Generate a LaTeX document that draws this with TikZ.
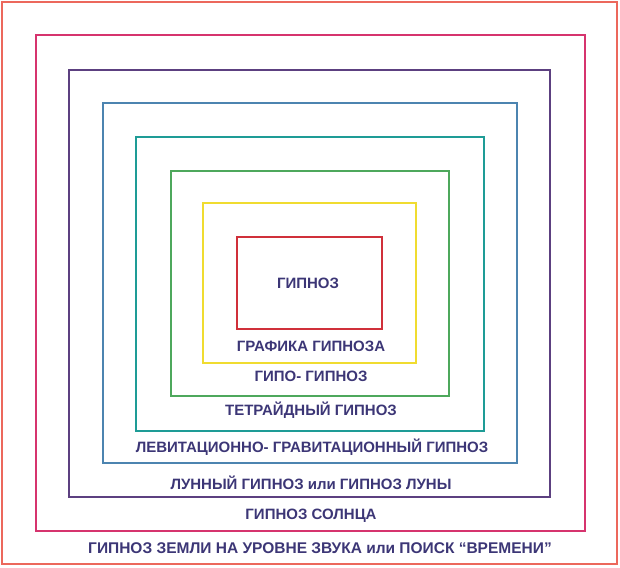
\documentclass[tikz,border=0pt]{standalone}
\usepackage{fontspec}
\setmainfont{Liberation Sans}
\usepackage{tikz}

\definecolor{labelblue}{RGB}{60,54,118}
\definecolor{boxsalmon}{RGB}{236,104,92}
\definecolor{boxpink}{RGB}{214,52,110}
\definecolor{boxpurple}{RGB}{92,64,128}
\definecolor{boxblue}{RGB}{76,132,176}
\definecolor{boxteal}{RGB}{30,156,150}
\definecolor{boxgreen}{RGB}{78,168,92}
\definecolor{boxyellow}{RGB}{240,220,48}
\definecolor{boxred}{RGB}{208,48,58}

\tikzset{
    frame/.style={line width=2.8pt},
    level/.style={text=labelblue, font=\bfseries\fontsize{15}{17}\selectfont, inner sep=0pt}
}

\begin{document}
\begin{tikzpicture}[x=1pt, y=-1pt]
    \useasboundingbox (0, 0) rectangle (620, 567);

    % Nested frames, outside to inside
    \draw[frame, boxsalmon] (2, 2) rectangle (617, 564);
    \draw[frame, boxpink] (36, 35) rectangle (585, 531);
    \draw[frame, boxpurple] (69, 70) rectangle (550, 497);
    \draw[frame, boxblue] (103, 103) rectangle (517, 463);
    \draw[frame, boxteal] (136, 137) rectangle (484, 431);
    \draw[frame, boxgreen] (171, 171) rectangle (449, 396);
    \draw[frame, boxyellow] (203, 203) rectangle (416, 363);
    \draw[frame, boxred] (237, 237) rectangle (382, 329);

    % Labels of the levels
    \node[level] (core) at (308, 283) {ГИПНОЗ};
    \node[level] (grafika) at (311, 346) {ГРАФИКА ГИПНОЗА};
    \node[level] (gipo) at (311, 376) {ГИПО- ГИПНОЗ};
    \node[level] (tetra) at (311, 410) {ТЕТРАЙДНЫЙ ГИПНОЗ};
    \node[level] (levit) at (312, 447) {ЛЕВИТАЦИОННО- ГРАВИТАЦИОННЫЙ ГИПНОЗ};
    \node[level] (luna) at (311, 483) {ЛУННЫЙ ГИПНОЗ или ГИПНОЗ ЛУНЫ};
    \node[level] (solnce) at (311, 516) {ГИПНОЗ СОЛНЦА};
    \node[level, font=\bfseries\fontsize{15.5}{17}\selectfont] (zemlya) at (320, 548) {ГИПНОЗ ЗЕМЛИ НА УРОВНЕ ЗВУКА или ПОИСК “ВРЕМЕНИ”};

\end{tikzpicture}
\end{document}
